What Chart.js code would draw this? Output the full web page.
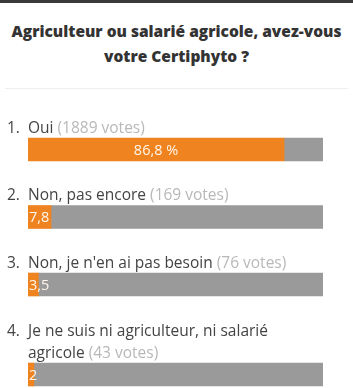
<!DOCTYPE html>
<html lang="fr">
<head>
<meta charset="UTF-8" />
<title>Certiphyto</title>
<style>
  html, body { margin: 0; padding: 0; background: #fff; }
  body { width: 353px; height: 388px; overflow: hidden; font-family: "Open Sans", sans-serif; }
  .topbar { height: 3px; background: #3a3a3a; }
  h1 { margin: 0; padding-top: 16px; height: 85px; box-sizing: border-box; font-size: 15.5px; line-height: 25px;
       font-weight: 800; color: #333; text-align: center; }
  .sep { margin: 0 5px; height: 1px; background: #eeeeee; }
  .chart-wrap { position: relative; width: 353px; height: 299px; }
</style>
</head>
<body>
  <div class="topbar"></div>
  <h1>Agriculteur ou salarié agricole, avez-vous<br>votre Certiphyto ?</h1>
  <div class="sep"></div>
  <div class="chart-wrap"><canvas id="poll"></canvas></div>

<script src="https://cdn.jsdelivr.net/npm/chart.js"></script>
<script>
  // poll answers
  const answers = [
    'Oui',
    'Non, pas encore',
    "Non, je n'en ai pas besoin",
    'Je ne suis ni agriculteur, ni salarié agricole'
  ];
  const votes = [1889, 169, 76, 43];
  const percents = [86.8, 7.8, 3.5, 2];

  const ORANGE = '#ef831f';
  const GREY = '#9a9a9a';
  const LABEL_FONT = '15.5px "Open Sans"';
  const LINE_H = 22;
  const TEXT_W = 295;

  // wrap answer text like the widget does (votes appended to the last line)
  const mctx = document.createElement('canvas').getContext('2d');
  mctx.font = LABEL_FONT;
  function wrap(txt, extra) {
    const words = (txt + ' ' + extra).split(' ');
    const lines = [];
    let cur = '';
    words.forEach(w => {
      const t = cur ? cur + ' ' + w : w;
      if (mctx.measureText(t).width > TEXT_W && cur) { lines.push(cur); cur = w; }
      else cur = t;
    });
    lines.push(cur);
    return lines;
  }
  const wrapped = answers.map((a, i) => wrap(a, '(' + votes[i] + ' votes)'));

  // row position: one unit per answer, plus a third for every extra label line
  const pos = [];
  { let extra = 0; wrapped.forEach((l, i) => { extra += (l.length - 1) / 3; pos.push(i + extra); }); }

  const labelPlugin = {
    id: 'pollLabels',
    afterDatasetsDraw(chart) {
      const ctx = chart.ctx;
      const bars = chart.getDatasetMeta(0).data;
      const area = chart.chartArea;
      ctx.save();
      bars.forEach((bar, i) => {
        const lines = wrapped[i];
        ctx.font = LABEL_FONT;
        ctx.textBaseline = 'middle';
        const top = bar.y - 21 - (lines.length - 1) * LINE_H;
        ctx.fillStyle = '#444';
        ctx.textAlign = 'left';
        ctx.fillText((i + 1) + '.', 7, top);
        lines.forEach((ln, k) => {
          const y = top + k * LINE_H;
          const vIdx = ln.indexOf('(');
          if (k === lines.length - 1 && vIdx >= 0) {
            const main = ln.slice(0, vIdx);
            ctx.fillStyle = '#444';
            ctx.fillText(main, area.left, y);
            ctx.fillStyle = '#b8b8b8';
            ctx.fillText(ln.slice(vIdx), area.left + ctx.measureText(main).width, y);
          } else {
            ctx.fillStyle = '#444';
            ctx.fillText(ln, area.left, y);
          }
        });
        // value inside the bar
        const num = String(percents[i]).replace('.', ',');
        ctx.font = '14.5px "Open Sans"';
        ctx.fillStyle = '#fff6ea';
        const w = bar.x - area.left;
        const full = num + ' %';
        if (ctx.measureText(full).width + 10 < w) {
          ctx.textAlign = 'center';
          ctx.fillText(full, area.left + w / 2, bar.y + 1);
        } else {
          ctx.textAlign = 'left';
          ctx.fillText(num, area.left + 1, bar.y + 1);
        }
      });
      ctx.restore();
    }
  };

  new Chart(document.getElementById('poll'), {
    type: 'bar',
    data: {
      datasets: [
        { data: percents.map((v, i) => ({ x: v, y: pos[i] })), backgroundColor: ORANGE },
        { data: percents.map((v, i) => ({ x: 100 - v, y: pos[i] })), backgroundColor: GREY }
      ]
    },
    options: {
      indexAxis: 'y',
      responsive: true,
      maintainAspectRatio: false,
      animation: false,
      layout: { padding: { left: 28, right: 30, top: 0, bottom: 0 } },
      datasets: { bar: { barThickness: 23, borderWidth: 0 } },
      scales: {
        x: { type: 'linear', stacked: true, min: 0, max: 100, display: false },
        y: { type: 'linear', stacked: true, reverse: true, offset: false, min: -0.896, max: 3.533, display: false }
      },
      plugins: { legend: { display: false }, tooltip: { enabled: false } }
    },
    plugins: [labelPlugin]
  });
</script>
</body>
</html>
